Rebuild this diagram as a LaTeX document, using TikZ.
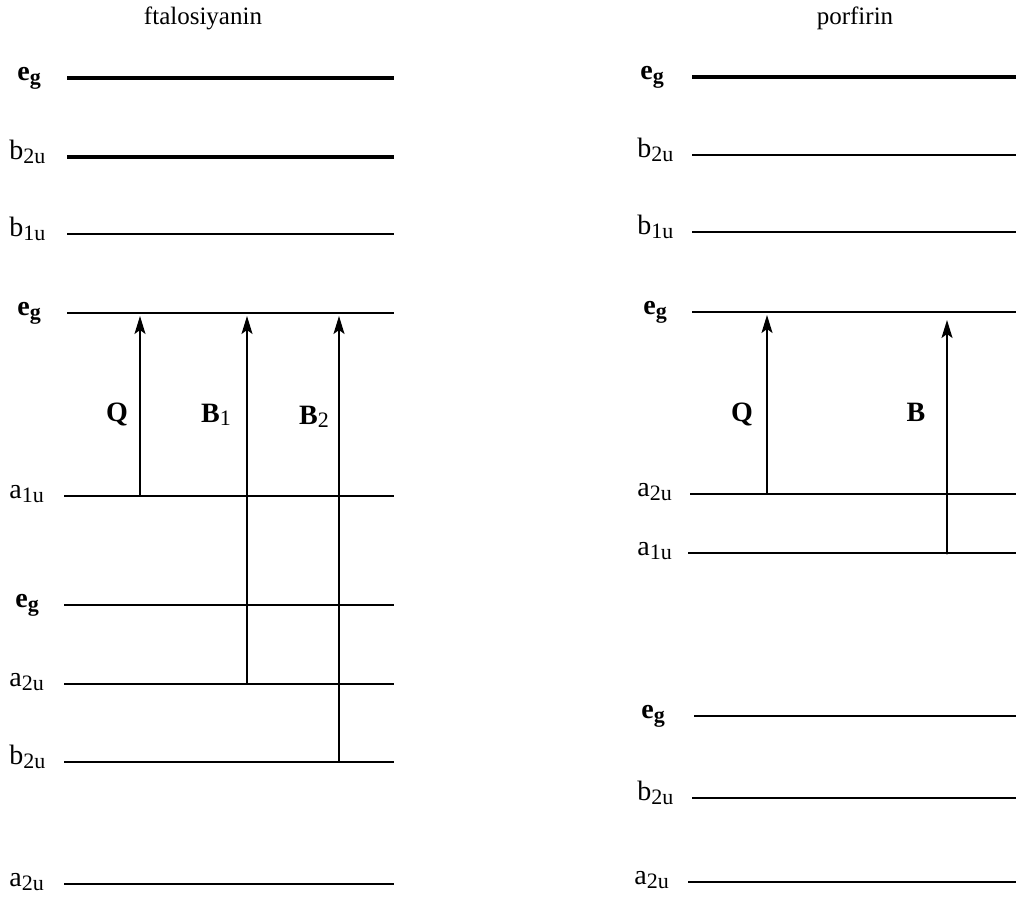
\documentclass[tikz,border=0pt]{standalone}
\usepackage{fontspec}
\setmainfont{Liberation Serif}
\usetikzlibrary{arrows.meta}
\newcommand{\lv}[2]{#1\raisebox{-0.35ex}{\fontsize{11}{11}\selectfont #2}}
\tikzset{
  lvl/.style={line width=0.9pt},
  hlvl/.style={line width=1.8pt},
  trans/.style={line width=0.9pt,-{Stealth[length=9pt,width=5.5pt,inset=2pt]}},
  llab/.style={font=\fontsize{14}{14}\selectfont,anchor=base west,inner sep=0pt},
  tlab/.style={font=\fontsize{14}{14}\selectfont\bfseries,anchor=base,inner sep=0pt},
  ttl/.style={font=\fontsize{12.5}{12.5}\selectfont,inner sep=0pt},
  jn/.style={circle,fill,inner sep=0pt,minimum size=1.6pt},
  every picture/.style={x=0.5pt,y=-0.5pt}
}
\begin{document}
\begin{tikzpicture}
  \useasboundingbox (0,0) rectangle (1016,896);
  % ftalosiyanin
  \node[ttl] (ftl) at (203,18) {ftalosiyanin};
  \foreach \y/\lx/\x/\t/\st in {78/17/67/{\textbf{\lv{e}{g}}}/hlvl, 157/9/67/{\lv{b}{2u}}/hlvl, 234/9/67/{\lv{b}{1u}}/lvl,
      313/17/67/{\textbf{\lv{e}{g}}}/lvl, 496/9/64/{\lv{a}{1u}}/lvl, 605/15/64/{\textbf{\lv{e}{g}}}/lvl,
      684/9/64/{\lv{a}{2u}}/lvl, 762/9/64/{\lv{b}{2u}}/lvl, 884/9/64/{\lv{a}{2u}}/lvl}{
    \node[llab] (fl\y) at (\lx,\y+2) {\t};
    \draw[\st] (\x,\y) -- (394,\y);
  }
  \coordinate (fq0) at (140,496); \coordinate (fq1) at (140,316);
  \coordinate (fb0) at (247,684); \coordinate (fb1) at (247,316);
  \coordinate (fc0) at (339,762); \coordinate (fc1) at (339,316);
  \draw[trans] (fq0) -- (fq1); \draw[trans] (fb0) -- (fb1); \draw[trans] (fc0) -- (fc1);
  \node[tlab] (fQ) at (117,421) {Q};
  \node[tlab] (fB1) at (216,422) {B\raisebox{-0.3ex}{\fontsize{11}{11}\selectfont\mdseries 1}};
  \node[tlab] (fB2) at (314,424) {B\raisebox{-0.3ex}{\fontsize{11}{11}\selectfont\mdseries 2}};
  % porfirin
  \node[ttl] (ptl) at (855,18) {porfirin};
  \foreach \y/\lx/\x/\t/\st in {77/640/692/{\textbf{\lv{e}{g}}}/hlvl, 155/637/692/{\lv{b}{2u}}/lvl, 232/637/692/{\lv{b}{1u}}/lvl,
      312/643/692/{\textbf{\lv{e}{g}}}/lvl, 494/637/690/{\lv{a}{2u}}/lvl, 553/637/688/{\lv{a}{1u}}/lvl,
      716/641/694/{\textbf{\lv{e}{g}}}/lvl, 798/637/692/{\lv{b}{2u}}/lvl, 882/634/688/{\lv{a}{2u}}/lvl}{
    \node[llab] (pl\y) at (\lx,\y+2) {\t};
    \draw[\st] (\x,\y) -- (1016,\y);
  }
  \coordinate (pq0) at (767,494); \coordinate (pq1) at (767,315);
  \coordinate (pb0) at (947,553); \coordinate (pb1) at (947,320);
  \draw[trans] (pq0) -- (pq1); \draw[trans] (pb0) -- (pb1);
  \node[jn] (pj1) at (947,494) {}; \node[jn] (pj2) at (pb0) {};
  \node[tlab] (pQ) at (742,421) {Q};
  \node[tlab] (pB) at (916,421) {B};
\end{tikzpicture}
\end{document}
